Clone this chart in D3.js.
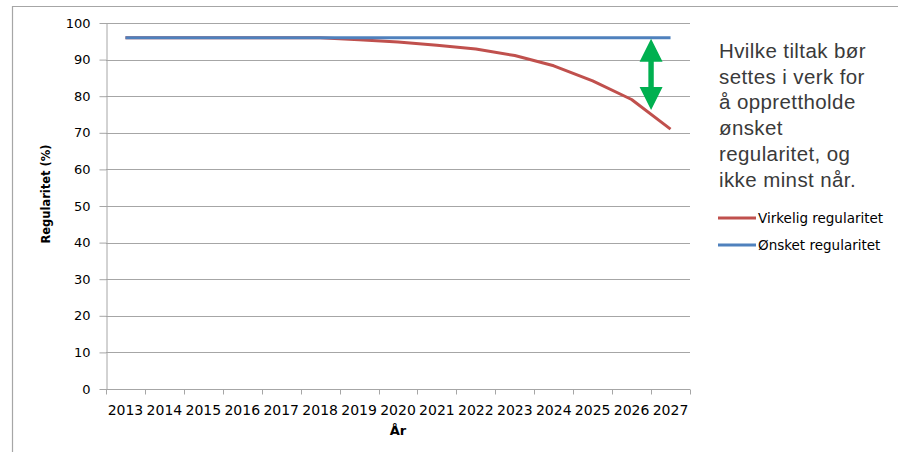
<!DOCTYPE html>
<html>
<head>
<meta charset="utf-8">
<script src="https://cdn.jsdelivr.net/npm/d3@7"></script>
<style>
  html, body { margin: 0; padding: 0; background: #fff; }
  svg { display: block; }
</style>
</head>
<body>
<svg id="chart" width="900" height="452"></svg>
<script>
const years = ["2013","2014","2015","2016","2017","2018","2019","2020","2021","2022","2023","2024","2025","2026","2027"];
const virkelig = [96, 96, 96, 96, 96, 96, 95.4, 94.8, 93.9, 92.9, 91.1, 88.3, 84.2, 79.1, 71];
const onsket   = [96, 96, 96, 96, 96, 96, 96, 96, 96, 96, 96, 96, 96, 96, 96];
const yTicks = [0, 10, 20, 30, 40, 50, 60, 70, 80, 90, 100];
const seriesNames = ["Virkelig regularitet", "Ønsket regularitet"];
const seriesColors = ["#C0504D", "#4F81BD"];
const noteLines = ["Hvilke tiltak bør", "settes i verk for", "å opprettholde", "ønsket", "regularitet, og", "ikke minst når."];

(function () {
const svg = d3.select("#chart");
const pLeft = 106, pRight = 690, pTop = 23, pBottom = 389;

// outer frame (top and left edges)
svg.append("path").attr("d", "M12.5,452 L12.5,6.5 L898,6.5")
  .attr("fill", "none").attr("stroke", "#a6a6a6").attr("stroke-width", 1.2);

const x = d3.scaleBand().domain(years).range([pLeft, pRight]).paddingInner(0).paddingOuter(0);
const y = d3.scaleLinear().domain([0, 100]).range([pBottom, pTop]);

// gridlines
svg.append("g").selectAll("line").data(yTicks.filter(d => d > 0)).join("line")
  .attr("x1", pLeft).attr("x2", pRight)
  .attr("y1", d => Math.round(y(d)) + 0.5).attr("y2", d => Math.round(y(d)) + 0.5)
  .attr("stroke", "#a6a6a6").attr("stroke-width", 1);

// y axis
const yAxis = d3.axisLeft(y).tickValues(yTicks).tickSize(7).tickPadding(9).tickSizeOuter(0);
const gy = svg.append("g").attr("transform", `translate(${pLeft + 0.5},0)`).call(yAxis);
gy.select(".domain").attr("stroke", "#a6a6a6");
gy.selectAll(".tick line").attr("stroke", "#a6a6a6");
gy.selectAll(".tick text").attr("font-family", "DejaVu Sans").attr("font-size", 13).attr("fill", "#000");

// x axis
const gx = svg.append("g").attr("transform", `translate(0,${Math.round(pBottom) + 0.5})`);
gx.append("line").attr("x1", pLeft).attr("x2", pRight).attr("stroke", "#a6a6a6");
const boundaries = years.map(d => x(d)).concat([pRight]);
gx.selectAll("line.tk").data(boundaries).join("line").attr("class", "tk")
  .attr("x1", d => Math.round(d) + 0.5).attr("x2", d => Math.round(d) + 0.5)
  .attr("y1", 0).attr("y2", 5).attr("stroke", "#a6a6a6");
gx.selectAll("text").data(years).join("text")
  .attr("x", d => x(d) + x.bandwidth() / 2).attr("y", 25)
  .attr("text-anchor", "middle").attr("font-family", "DejaVu Sans").attr("font-size", 14)
  .attr("fill", "#000").text(d => d);

// axis titles
svg.append("text").attr("x", (pLeft + pRight) / 2).attr("y", 435).attr("text-anchor", "middle")
  .attr("font-family", "DejaVu Sans").attr("font-weight", "bold").attr("font-size", 13).text("År");
svg.append("text").attr("transform", "translate(50,194) rotate(-90)").attr("text-anchor", "middle")
  .attr("font-family", "DejaVu Sans").attr("font-weight", "bold").attr("font-size", 11.5).text("Regularitet (%)");

// lines
const line = d3.line().x((d, i) => x(years[i]) + x.bandwidth() / 2).y(d => y(d));
svg.append("path").datum(virkelig).attr("d", line).attr("fill", "none")
  .attr("stroke", seriesColors[0]).attr("stroke-width", 3).attr("stroke-linejoin", "round");
svg.append("path").datum(onsket).attr("d", line).attr("fill", "none")
  .attr("stroke", seriesColors[1]).attr("stroke-width", 3);

// green double arrow between wanted and real regularity
const ax = x("2027");
const yA = y(96) + 1, yB = y(76.2);
const hw = 11.5, hh = 23, sw = 2.7;
const arrowPath = [
  [ax, yA], [ax + hw, yA + hh], [ax + sw, yA + hh], [ax + sw, yB - hh], [ax + hw, yB - hh],
  [ax, yB], [ax - hw, yB - hh], [ax - sw, yB - hh], [ax - sw, yA + hh], [ax - hw, yA + hh]
];
svg.append("path").attr("d", d3.line()(arrowPath) + "Z").attr("fill", "#00B050");

// annotation text
const note = svg.append("text").attr("font-family", "Liberation Sans").attr("font-size", 20.5)
  .attr("letter-spacing", 0.4).attr("fill", "#3a3a3a");
noteLines.forEach((t, i) => {
  note.append("tspan").attr("x", 719).attr("y", 58 + i * 25.7).text(t);
});

// legend
const lg = svg.append("g");
seriesNames.forEach((n, i) => {
  const ly = 218 + i * 27;
  lg.append("line").attr("x1", 718).attr("x2", 756).attr("y1", ly).attr("y2", ly)
    .attr("stroke", seriesColors[i]).attr("stroke-width", 3);
  lg.append("text").attr("x", 758).attr("y", ly + 5).attr("font-family", "DejaVu Sans")
    .attr("font-size", 13.5).attr("fill", "#000").text(n);
});
})();
</script>
</body>
</html>
